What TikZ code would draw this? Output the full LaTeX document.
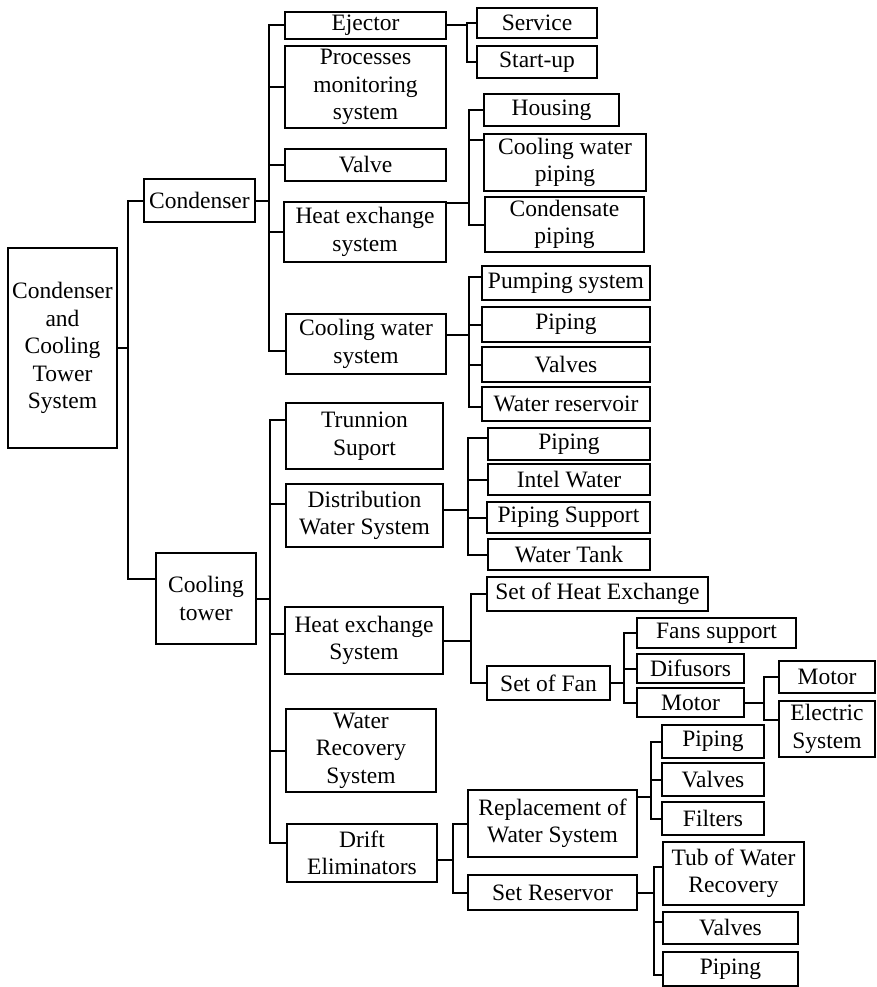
\documentclass[tikz,border=0pt]{standalone}
\usepackage{fontspec}
\setmainfont{Liberation Serif}
\usepackage{tikz}
\usetikzlibrary{positioning}

\tikzset{
  box/.style={draw, line width=2pt, inner sep=0pt, align=center,
    font=\fontsize{23.5}{27.5}\selectfont},
  link/.style={line width=2pt}
}

\begin{document}
\begin{tikzpicture}[x=1pt,y=-1pt]
            \useasboundingbox (0,0) rectangle (876,987);
            \node[box, minimum width=109pt, minimum height=200pt] (root) at (62.5,348) {Condenser\\and\\Cooling\\Tower\\System};
            \node[box, minimum width=111pt, minimum height=43pt] (cond) at (199.5,200.5) {Condenser};
            \node[box, minimum width=100pt, minimum height=91pt] (ct) at (206,598.5) {Cooling\\tower};
            \draw[link] (root.east) -- ++(10,0) |- (cond.west);
            \draw[link] (root.east) -- ++(10,0) |- ([yshift=19.5pt]ct.west);
            % condenser
            \node[box, minimum width=161pt, minimum height=27pt] (ej) at (365.5,25.5) {Ejector};
            \node[box, minimum width=161pt, minimum height=82pt] (pm) at (365.5,87) {Processes\\monitoring\\system};
            \node[box, minimum width=161pt, minimum height=32pt] (va) at (365.5,165) {Valve};
            \node[box, minimum width=162pt, minimum height=60pt] (hx) at (365,232) {Heat exchange\\system};
            \node[box, minimum width=160pt, minimum height=60pt] (cw) at (366,344) {Cooling water\\system};
            \draw[link] (cond.east) -- ++(13,0) |- (ej.west);
            \draw[link] (cond.east) -- ++(13,0) |- (pm.west);
            \draw[link] (cond.east) -- ++(13,0) |- (va.west);
            \draw[link] (cond.east) -- ++(13,0) |- (hx.west);
            \draw[link] (cond.east) -- ++(13,0) |- ([yshift=-7pt]cw.west);
            \node[box, minimum width=120pt, minimum height=30pt] (sv) at (537,23) {Service};
            \node[box, minimum width=120pt, minimum height=32pt] (su) at (537,62) {Start-up};
            \draw[link] (ej.east) -- ++(20,0) |- (sv.west);
            \draw[link] (ej.east) -- ++(20,0) |- (su.west);
            \node[box, minimum width=135pt, minimum height=32pt] (hs) at (551.5,110) {Housing};
            \node[box, minimum width=162pt, minimum height=57pt] (cp) at (565,162.5) {Cooling water\\piping};
            \node[box, minimum width=159pt, minimum height=55pt] (dp) at (564.5,224.5) {Condensate\\piping};
            \draw[link] ([yshift=29pt]hx.east) -- ++(22,0) |- (hs.west);
            \draw[link] ([yshift=29pt]hx.east) -- ++(22,0) |- ([yshift=22.5pt]cp.west);
            \draw[link] ([yshift=29pt]hx.east) -- ++(22,0) |- (dp.west);
            \node[box, minimum width=168pt, minimum height=34pt] (ps) at (566,283) {Pumping system};
            \node[box, minimum width=168pt, minimum height=35pt] (pi) at (566,324.5) {Piping};
            \node[box, minimum width=168pt, minimum height=35pt] (vs) at (566,364.5) {Valves};
            \node[box, minimum width=168pt, minimum height=34pt] (wr) at (566,404) {Water reservoir};
            \draw[link] ([yshift=9pt]cw.east) -- ++(22,0) |- ([yshift=6pt]ps.west);
            \draw[link] ([yshift=9pt]cw.east) -- ++(22,0) |- (pi.west);
            \draw[link] ([yshift=9pt]cw.east) -- ++(22,0) |- (vs.west);
            \draw[link] ([yshift=9pt]cw.east) -- ++(22,0) |- ([yshift=-3pt]wr.west);
            % cooling tower
            \node[box, minimum width=157pt, minimum height=66pt] (ts) at (364.5,436) {Trunnion\\Suport};
            \node[box, minimum width=157pt, minimum height=63pt] (dw) at (364.5,515.5) {Distribution\\Water System};
            \node[box, minimum width=158pt, minimum height=67pt] (hxs) at (364,640.5) {Heat exchange\\System};
            \node[box, minimum width=150pt, minimum height=83pt] (wrs) at (361,750.5) {Water\\Recovery\\System};
            \node[box, minimum width=150pt, minimum height=58pt] (de) at (362,853) {Drift\\Eliminators};
            \draw[link] (ct.east) -- ++(13,0) |- ([yshift=16pt]ts.west);
            \draw[link] (ct.east) -- ++(13,0) |- ([yshift=11.5pt]dw.west);
            \draw[link] (ct.east) -- ++(13,0) |- ([yshift=6.5pt]hxs.west);
            \draw[link] (ct.east) -- ++(13,0) |- (wrs.west);
            \draw[link] (ct.east) -- ++(13,0) |- ([yshift=10pt]de.west);
            \node[box, minimum width=162pt, minimum height=32pt] (dpi) at (569,444) {Piping};
            \node[box, minimum width=162pt, minimum height=31pt] (iw) at (569,479.5) {Intel Water};
            \node[box, minimum width=163pt, minimum height=31pt] (psu) at (568.5,517.5) {Piping Support};
            \node[box, minimum width=162pt, minimum height=31pt] (wt) at (569,554.5) {Water Tank};
            \draw[link] ([yshift=5.5pt]dw.east) -- ++(24,0) |- ([yshift=6pt]dpi.west);
            \draw[link] ([yshift=5.5pt]dw.east) -- ++(24,0) |- (iw.west);
            \draw[link] ([yshift=5.5pt]dw.east) -- ++(24,0) |- (psu.west);
            \draw[link] ([yshift=5.5pt]dw.east) -- ++(24,0) |- (wt.west);
            \node[box, minimum width=221pt, minimum height=34pt] (she) at (597.5,594) {Set of Heat Exchange};
            \node[box, minimum width=123pt, minimum height=34pt] (sf) at (548.5,683) {Set of Fan};
            \draw[link] (hxs.east) -- ++(27,0) |- (she.west);
            \draw[link] (hxs.east) -- ++(27,0) |- (sf.west);
            \node[box, minimum width=159pt, minimum height=30pt] (fs) at (716.5,633) {Fans support};
            \node[box, minimum width=107pt, minimum height=29pt] (df) at (690.5,668.5) {Difusors};
            \node[box, minimum width=107pt, minimum height=29pt] (mo) at (690.5,702.5) {Motor};
            \draw[link] (sf.east) -- ++(13,0) |- (fs.west);
            \draw[link] (sf.east) -- ++(13,0) |- (df.west);
            \draw[link] (sf.east) -- ++(13,0) |- (mo.west);
            \node[box, minimum width=96pt, minimum height=32pt] (mm) at (827,677) {Motor};
            \node[box, minimum width=96pt, minimum height=56pt] (es) at (827,729) {Electric\\System};
            \draw[link] (mo.east) -- ++(19,0) |- (mm.west);
            \draw[link] (mo.east) -- ++(19,0) |- ([yshift=9pt]es.west);
            \node[box, minimum width=169pt, minimum height=67pt] (rw) at (552.5,823.5) {Replacement of\\Water System};
            \node[box, minimum width=169pt, minimum height=35pt] (sr) at (552.5,892.5) {Set Reservor};
            \draw[link] ([yshift=-7pt]de.east) -- ++(15,0) |- (rw.west);
            \draw[link] ([yshift=-7pt]de.east) -- ++(15,0) |- (sr.west);
            \node[box, minimum width=102pt, minimum height=33pt] (rp) at (713,741.5) {Piping};
            \node[box, minimum width=102pt, minimum height=33pt] (rv) at (713,779.5) {Valves};
            \node[box, minimum width=102pt, minimum height=33pt] (rf) at (713,818.5) {Filters};
            \draw[link] ([yshift=26.5pt]rw.east) -- ++(13,0) |- (rp.west);
            \draw[link] ([yshift=26.5pt]rw.east) -- ++(13,0) |- (rv.west);
            \draw[link] ([yshift=26.5pt]rw.east) -- ++(13,0) |- (rf.west);
            \node[box, minimum width=141pt, minimum height=63pt] (tw) at (733.5,873.5) {Tub of Water\\Recovery};
            \node[box, minimum width=135pt, minimum height=32pt] (sv2) at (730.5,928) {Valves};
            \node[box, minimum width=135pt, minimum height=34pt] (sp) at (730.5,969) {Piping};
            \draw[link] (sr.east) -- ++(16,0) |- ([yshift=6.5pt]tw.west);
            \draw[link] (sr.east) -- ++(16,0) |- ([yshift=6pt]sv2.west);
            \draw[link] (sr.east) -- ++(16,0) |- ([yshift=-6pt]sp.west);
\end{tikzpicture}
\end{document}
